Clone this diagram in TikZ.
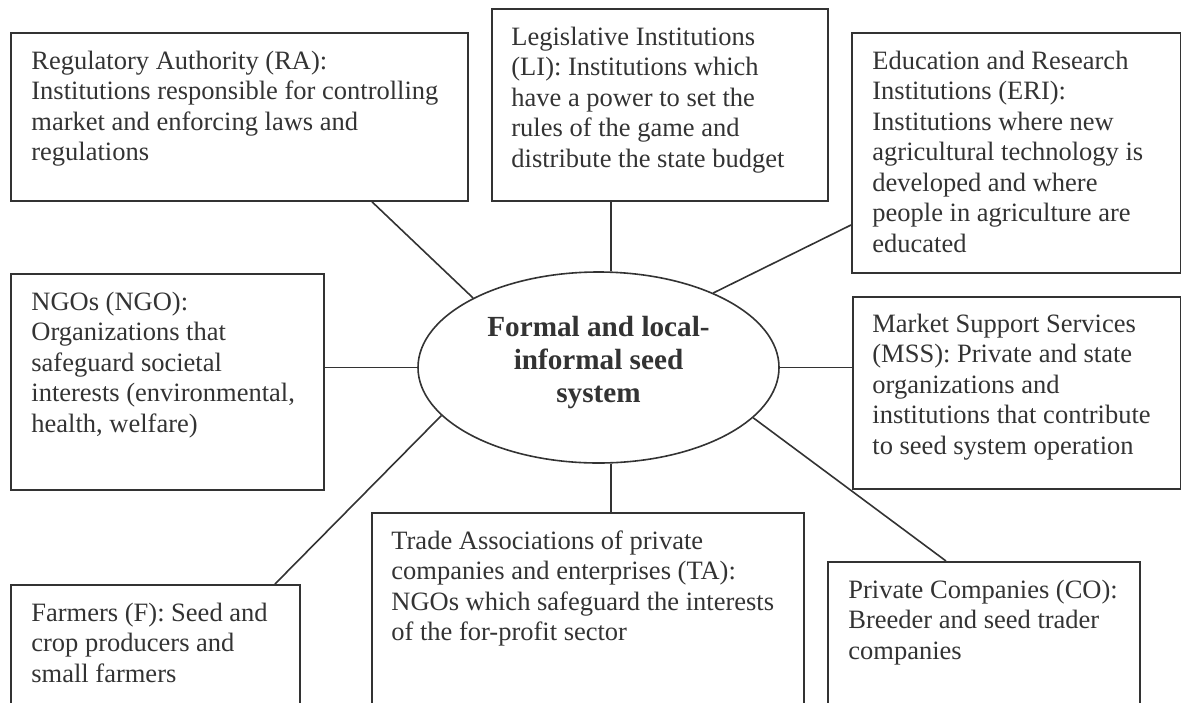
\documentclass[tikz,border=0pt]{standalone}
\usepackage{fontspec}
\setmainfont{Liberation Serif}
\usetikzlibrary{shapes.geometric,calc}
\definecolor{ink}{rgb}{0.2,0.2,0.2}
\tikzset{
  actor/.style={draw=ink, line width=0.9pt, rectangle, anchor=north west, inner sep=0pt},
  actortext/.style={anchor=base west, inner sep=0pt, text=ink,
    font=\fontsize{13.25pt}{15.25pt}\selectfont},
  systext/.style={align=center, inner sep=0pt, text=ink,
    font=\fontsize{14.6pt}{16.5pt}\selectfont\bfseries},
  link/.style={draw=ink, line width=0.8pt},
}
\newcommand{\lines}[1]{\parbox[t]{240pt}{\raggedright #1}}
\begin{document}
\begin{tikzpicture}[x=0.5pt,y=-0.5pt]
\useasboundingbox (0,0) rectangle (1181,702);
\clip (0,0) rectangle (1181,702);
% boxes of the actors
\node[actor, minimum width=228.5pt, minimum height=84pt] (ra) at (10,32) {};
\node[actor, minimum width=168pt, minimum height=96pt] (li) at (491,8) {};
\node[actor, minimum width=164.5pt, minimum height=120pt] (eri) at (851,32) {};
\node[actor, minimum width=156.5pt, minimum height=108pt] (ngo) at (10,273) {};
\node[actor, minimum width=164pt, minimum height=96pt] (mss) at (852,296) {};
\node[actor, minimum width=144.5pt, minimum height=80pt] (far) at (10,584) {};
\node[actor, minimum width=216pt, minimum height=110pt] (ta) at (371,512) {};
\node[actor, minimum width=156pt, minimum height=85pt] (co) at (827,561) {};
% texts of the actors
\node[actortext] (ra-t) at ($(ra.north west)+(21,37)$) {\lines{Regulatory Authority (RA):\\
Institutions responsible for controlling\\ market and enforcing laws and\\ regulations}};
\node[actortext] (li-t) at ($(li.north west)+(20,37)$) {\lines{Legislative Institutions\\
(LI): Institutions which\\ have a power to set the\\ rules of the game and\\ distribute the state budget}};
\node[actortext] (eri-t) at ($(eri.north west)+(21,37)$) {\lines{Education and Research\\
Institutions (ERI):\\ Institutions where new\\ agricultural technology is\\ developed and where\\
people in agriculture are\\ educated}};
\node[actortext] (ngo-t) at ($(ngo.north west)+(21,37)$) {\lines{NGOs (NGO):\\
Organizations that\\ safeguard societal\\ interests (environmental,\\ health, welfare)}};
\node[actortext] (mss-t) at ($(mss.north west)+(20,36)$) {\lines{Market Support Services\\
(MSS): Private and state\\ organizations and\\ institutions that contribute\\ to seed system operation}};
\node[actortext] (far-t) at ($(far.north west)+(21,37)$) {\lines{Farmers (F): Seed and\\
crop producers and\\ small farmers}};
\node[actortext] (ta-t) at ($(ta.north west)+(20,37)$) {\lines{Trade Associations of private\\
companies and enterprises (TA):\\ NGOs which safeguard the interests\\ of the for-profit sector}};
\node[actortext] (co-t) at ($(co.north west)+(21,37)$) {\lines{Private Companies (CO):\\
Breeder and seed trader\\ companies}};
% the seed system in the middle
\node[ellipse, draw=ink, line width=0.8pt, inner sep=0pt, minimum width=180.5pt,
  minimum height=95.5pt] (sys) at (598.5,367.5) {};
\node[systext] (sys-t) at ($(sys.center)+(0,-5)$) {Formal and local-\\ informal seed\\ system};
% connectors
\coordinate (li-foot) at ($(li.south west)+(120,0)$);
\coordinate (ta-head) at ($(ta.north west)+(240,0)$);
\draw[link] ($(ra.south west)+(362,0)$) -- (sys.151.8);
\draw[link] (li-foot) -- (li-foot |- sys.north);
\draw[link] ($(eri.north west)+(0,193)$) -- (sys.33);
\draw[link] (sys.west -| ngo.east) -- (sys.west);
\draw[link] (sys.east) -- (sys.east -| mss.west);
\draw[link] ($(far.north west)+(265,0)$) -- (sys.197.6);
\draw[link] (ta-head) -- (ta-head |- sys.south);
\draw[link] (sys.342.4) -- ($(co.north west)+(119,0)$);
\end{tikzpicture}
\end{document}
